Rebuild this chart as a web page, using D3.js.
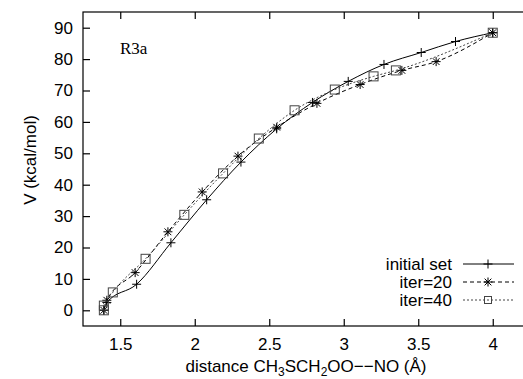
<!DOCTYPE html>
<html>
<head>
<meta charset="utf-8">
<script src="https://cdn.jsdelivr.net/npm/d3@7"></script>
<style>
  body { margin: 0; background: #fff; }
  svg { display: block; }
  .tick text { font-family: 'Liberation Sans', Arial, sans-serif; font-size: 17px; fill: #000; }
</style>
</head>
<body>
<div id="chart"></div>
<script>
// data
var seriesNames = ['initial set', 'iter=20', 'iter=40']

var initialX = [1.39, 1.41, 1.61, 1.84, 2.08, 2.31, 2.55, 2.79, 3.03, 3.27, 3.52, 3.75, 4.0]
var initialV = [0, 2.5, 8.3, 21.5, 35.2, 47.2, 57.8, 66.2, 72.9, 78.3, 82.1, 85.6, 88.4]

var iter20X = [1.39, 1.41, 1.60, 1.82, 2.05, 2.29, 2.55, 2.82, 3.11, 3.39, 3.62, 4.0]
var iter20V = [0, 3.2, 12.0, 25.0, 37.7, 49.1, 58.3, 65.9, 71.9, 76.4, 79.2, 88.4]

var iter40X = [1.39, 1.39, 1.45, 1.67, 1.93, 2.19, 2.43, 2.67, 2.94, 3.20, 3.35, 4.0]
var iter40V = [0, 1.5, 5.7, 16.4, 30.4, 43.6, 54.7, 63.7, 70.3, 74.5, 76.4, 88.4]

var xTicks = [1.5, 2, 2.5, 3, 3.5, 4]
var yTicks = [0, 10, 20, 30, 40, 50, 60, 70, 80, 90]

var svgWidth = 523
var svgHeight = 379

var margin = { top: 12, left: 83 }
var width = 447    // plot runs past the right edge of the picture
var height = 314

var svg = d3.select('#chart')
  .append('svg')
  .attr('width', svgWidth)
  .attr('height', svgHeight)

var g = svg.append('g')
  .attr('transform', `translate(${margin.left}, ${margin.top})`)

var x = d3.scaleLinear().domain([1.25, 4.25]).range([0, width])
var y = d3.scaleLinear().domain([-5, 95]).range([height, 0])

// frame
g.append('rect')
  .attr('width', width)
  .attr('height', height)
  .attr('fill', 'none')
  .attr('stroke', '#000')
  .attr('stroke-width', 1.2)

// axes, ticks pointing inward, mirrored on top and right
g.append('g')
  .attr('transform', `translate(0, ${height})`)
  .call(d3.axisBottom(x).tickValues(xTicks).tickFormat(d3.format('')).tickSizeInner(-7).tickSizeOuter(0).tickPadding(12))
  .call(a => a.select('.domain').remove())

g.append('g')
  .call(d3.axisTop(x).tickValues(xTicks).tickFormat('').tickSizeInner(-7).tickSizeOuter(0))
  .call(a => a.select('.domain').remove())

g.append('g')
  .call(d3.axisLeft(y).tickValues(yTicks).tickSizeInner(-7).tickSizeOuter(0).tickPadding(10))
  .call(a => a.select('.domain').remove())

g.append('g')
  .attr('transform', `translate(${width}, 0)`)
  .call(d3.axisRight(y).tickValues(yTicks).tickFormat('').tickSizeInner(-7).tickSizeOuter(0))
  .call(a => a.select('.domain').remove())

g.selectAll('.tick line').attr('stroke', '#000').attr('stroke-width', 1.2)

// series
var series = [
  { name: seriesNames[0], xs: initialX, vs: initialV, dash: null, color: '#000', mark: 'plus' },
  { name: seriesNames[1], xs: iter20X, vs: iter20V, dash: '4,3', color: '#000', mark: 'star' },
  { name: seriesNames[2], xs: iter40X, vs: iter40V, dash: '2,2', color: '#444', mark: 'box' }
]

var line = d3.line()
  .x(d => x(d[0]))
  .y(d => y(d[1]))
  .curve(d3.curveMonotoneX)

function drawMark(sel, kind, cx, cy, color, s) {
  s = s || 4.5
  if (kind === 'plus') {
    sel.append('path')
      .attr('d', `M${cx - s},${cy}H${cx + s}M${cx},${cy - s}V${cy + s}`)
      .attr('stroke', color).attr('stroke-width', 1).attr('fill', 'none')
  } else if (kind === 'star') {
    var d = s * 0.75
    sel.append('path')
      .attr('d', `M${cx - s},${cy}H${cx + s}M${cx},${cy - s}V${cy + s}M${cx - d},${cy - d}L${cx + d},${cy + d}M${cx - d},${cy + d}L${cx + d},${cy - d}`)
      .attr('stroke', color).attr('stroke-width', 1).attr('fill', 'none')
  } else {
    sel.append('rect')
      .attr('x', cx - s).attr('y', cy - s)
      .attr('width', 2 * s).attr('height', 2 * s)
      .attr('stroke', color).attr('stroke-width', 1).attr('fill', 'none')
  }
}

series.forEach(sr => {
  var pts = sr.xs.map((v, i) => [v, sr.vs[i]])
  g.append('path')
    .datum(pts)
    .attr('d', line)
    .attr('fill', 'none')
    .attr('stroke', sr.color)
    .attr('stroke-width', 1)
    .attr('stroke-dasharray', sr.dash)
  var mg = g.append('g')
  pts.forEach(p => drawMark(mg, sr.mark, x(p[0]), y(p[1]), sr.color))
})

// legend
var legend = svg.append('g')
series.forEach((sr, i) => {
  var ly = 264 + i * 18
  legend.append('text')
    .attr('x', 452)
    .attr('y', ly)
    .attr('dy', '0.35em')
    .attr('text-anchor', 'end')
    .style('font-family', "'Liberation Sans', Arial, sans-serif")
    .style('font-size', '17px')
    .text(sr.name)
  legend.append('line')
    .attr('x1', 463).attr('x2', 514)
    .attr('y1', ly).attr('y2', ly)
    .attr('stroke', sr.color)
    .attr('stroke-width', 1)
    .attr('stroke-dasharray', sr.dash)
  drawMark(legend, sr.mark, 488, ly, sr.color, sr.mark === 'box' ? 3.5 : 4.5)
})

// panel label
svg.append('text')
  .attr('x', 120)
  .attr('y', 54)
  .style('font-family', "'Liberation Serif', 'Times New Roman', serif")
  .style('font-size', '17px')
  .text('R3a')

// axis titles
var xt = svg.append('text')
  .attr('x', 306)
  .attr('y', 372)
  .attr('text-anchor', 'middle')
  .style('font-family', "'Liberation Sans', Arial, sans-serif")
  .style('font-size', '17px')
xt.append('tspan').text('distance CH')
xt.append('tspan').attr('dy', 4).style('font-size', '12px').text('3')
xt.append('tspan').attr('dy', -4).text('SCH')
xt.append('tspan').attr('dy', 4).style('font-size', '12px').text('2')
xt.append('tspan').attr('dy', -4).text('OO\u2212\u2212NO (\u00c5)')

svg.append('text')
  .attr('transform', 'translate(36, 160) rotate(-90)')
  .attr('text-anchor', 'middle')
  .style('font-family', "'Liberation Sans', Arial, sans-serif")
  .style('font-size', '17px')
  .text('V (kcal/mol)')
</script>
</body>
</html>
